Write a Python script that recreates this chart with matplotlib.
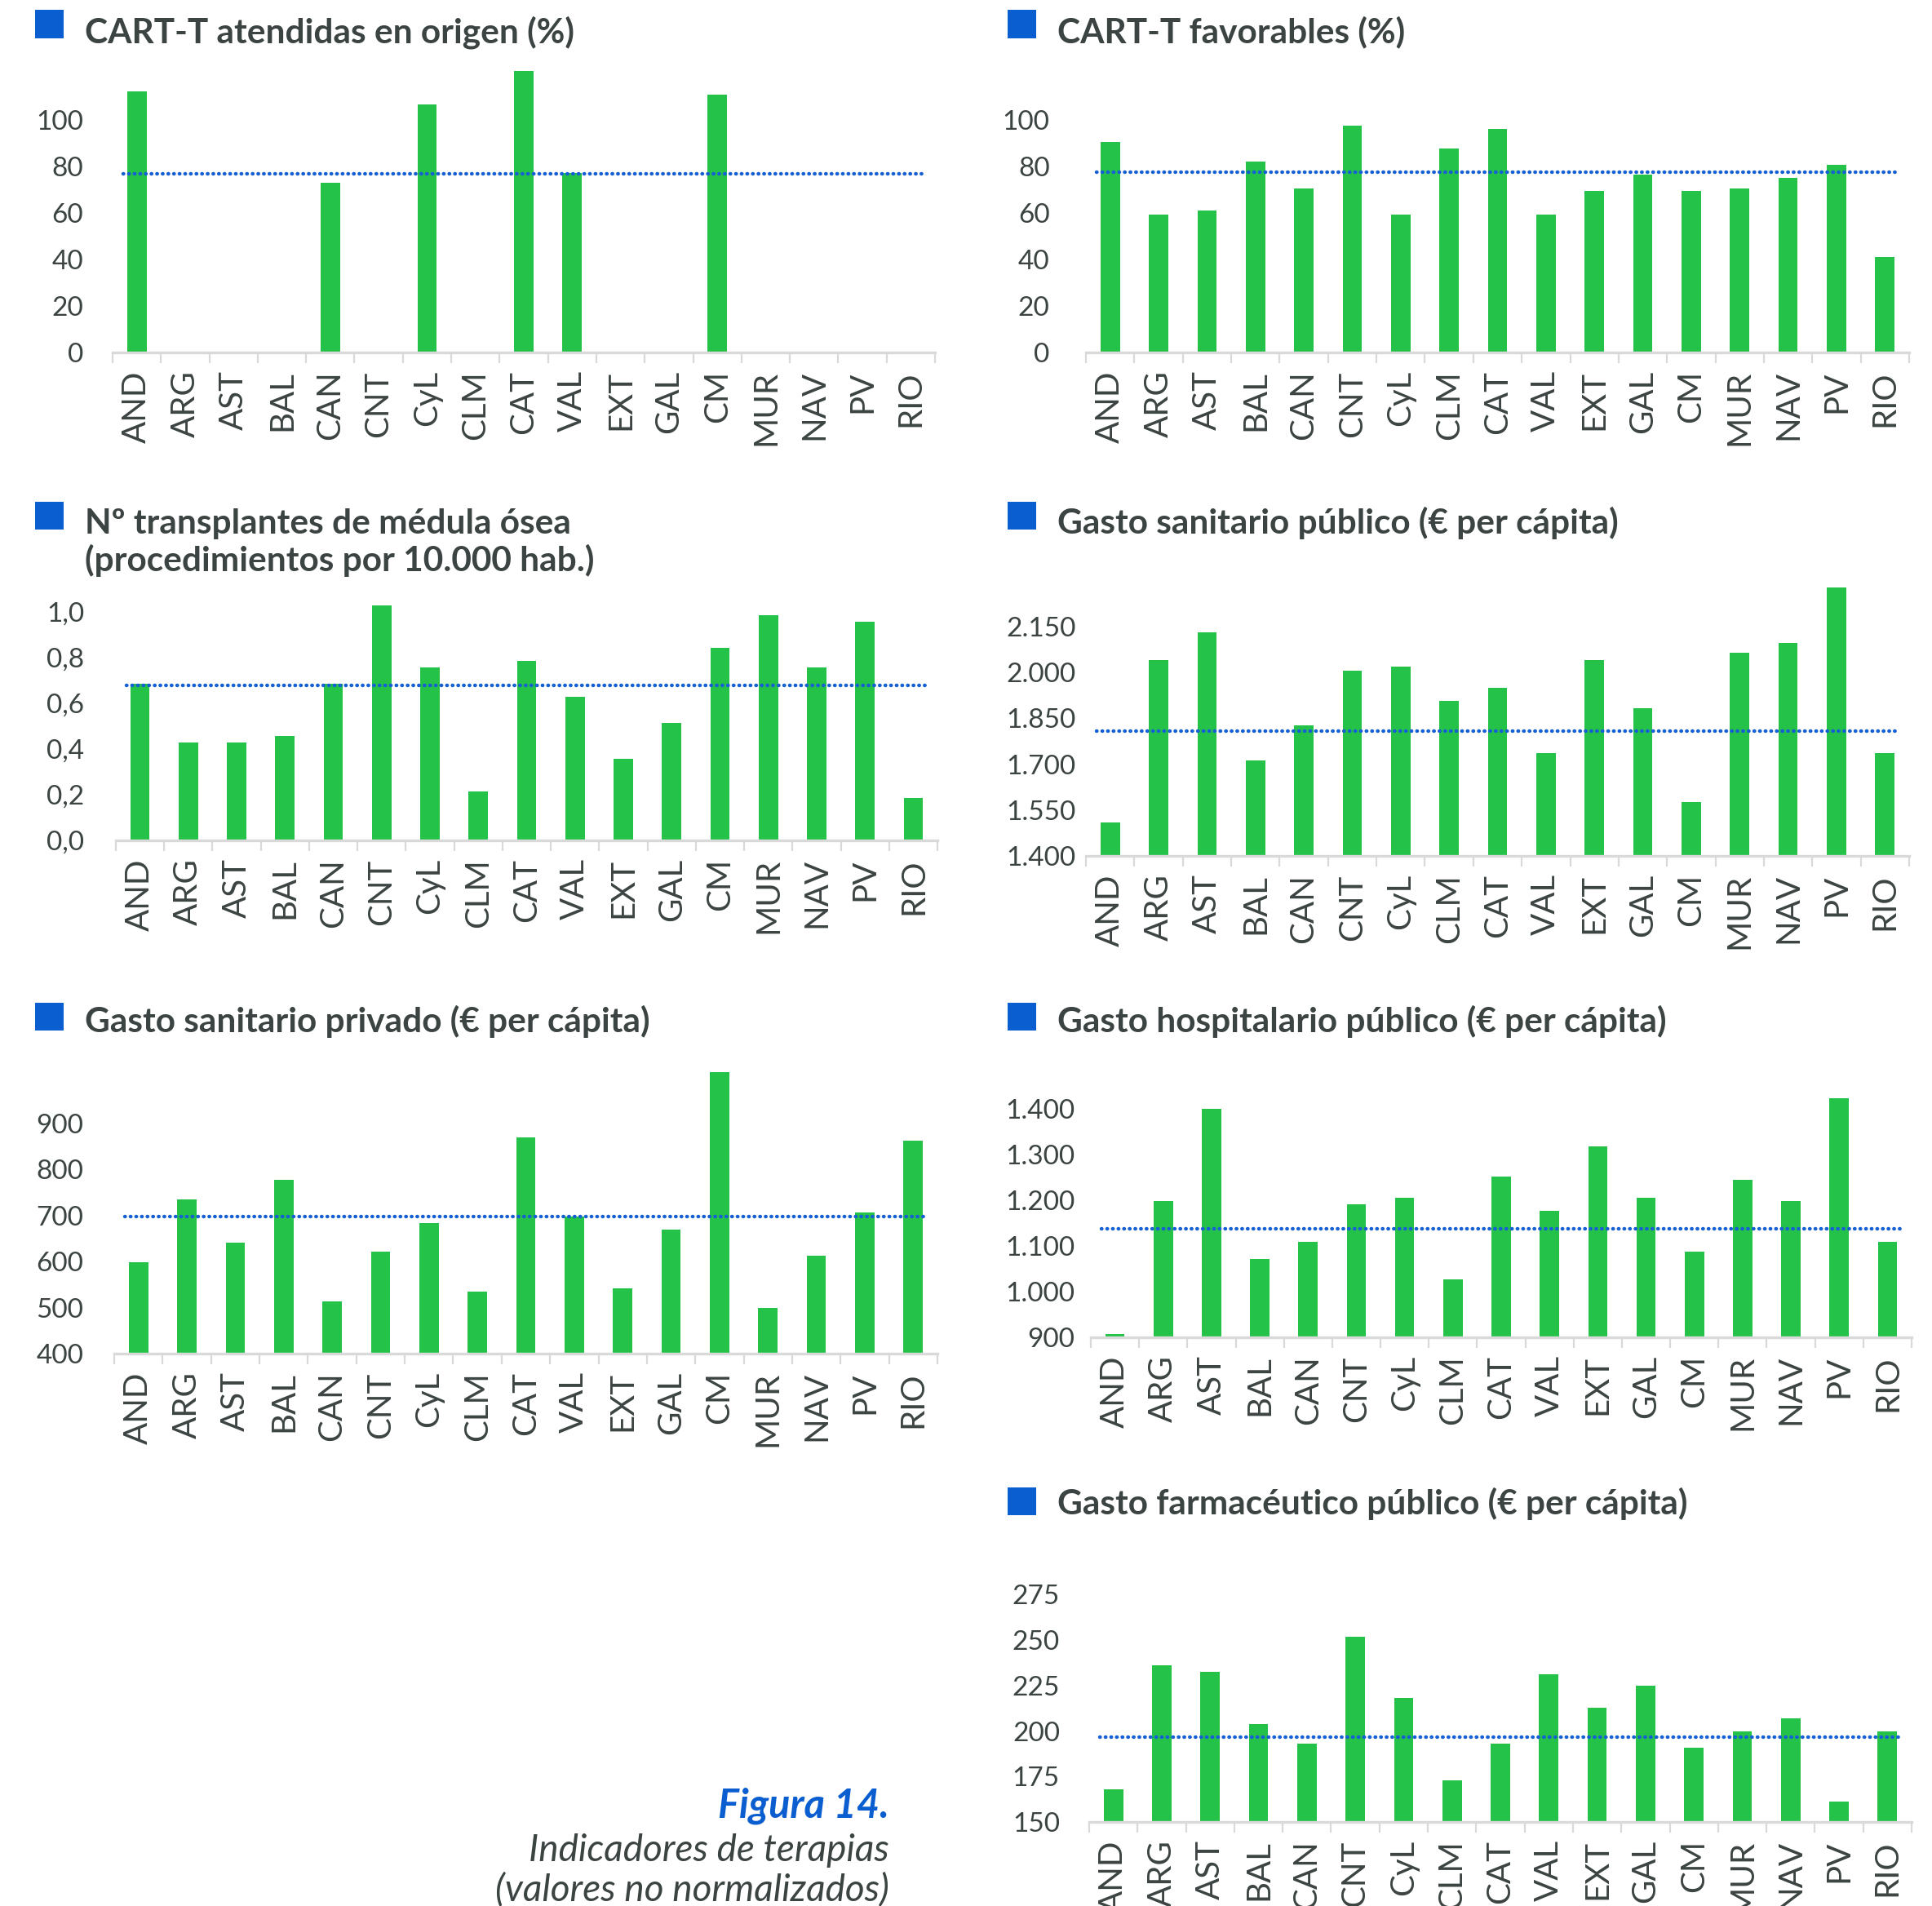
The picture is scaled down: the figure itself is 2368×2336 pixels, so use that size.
import numpy as np
import matplotlib
matplotlib.use("Agg")
import matplotlib.pyplot as plt
from matplotlib.patches import Rectangle

# ---------------- data ----------------
regions = ["AND", "ARG", "AST", "BAL", "CAN", "CNT", "CyL", "CLM", "CAT",
           "VAL", "EXT", "GAL", "CM", "MUR", "NAV", "PV", "RIO"]
nan = np.nan

cart_origen = [112.3, nan, nan, nan, 73.0, nan, 106.7, nan, 120.9,
               77.1, nan, nan, 110.9, nan, nan, nan, nan]
cart_origen_mean = 76.7

cart_favorables = [90.6, 59.4, 61.0, 82.1, 70.7, 97.6, 59.4, 87.7, 96.2,
                   59.4, 69.3, 76.4, 69.3, 70.7, 75.1, 80.6, 41.0]
cart_favorables_mean = 77.4

transplantes = [0.687, 0.428, 0.428, 0.457, 0.687, 1.03, 0.757, 0.214, 0.786,
                0.629, 0.357, 0.514, 0.844, 0.987, 0.757, 0.958, 0.184]
transplantes_mean = 0.680

gasto_publico = [1510, 2041, 2132, 1713, 1826, 2006, 2018, 1906, 1950,
                 1735, 2041, 1882, 1577, 2064, 2097, 2279, 1735]
gasto_publico_mean = 1807

gasto_privado = [599, 735, 642, 777, 514, 621, 684, 535, 870,
                 698, 542, 670, 1012, 500, 613, 706, 862]
gasto_privado_mean = 697

gasto_hosp = [908, 1198, 1400, 1072, 1109, 1191, 1206, 1027, 1251,
              1177, 1318, 1206, 1087, 1244, 1198, 1423, 1109]
gasto_hosp_mean = 1137

gasto_farma = [168, 236, 232.5, 204, 193, 252, 218, 173, 193,
               231, 213, 225, 191, 200, 207, 161, 200]
gasto_farma_mean = 196.5

ticks_origen = [0, 20, 40, 60, 80, 100]
labels_origen = ["0", "20", "40", "60", "80", "100"]
ticks_transpl = [0.0, 0.2, 0.4, 0.6, 0.8, 1.0]
labels_transpl = ["0,0", "0,2", "0,4", "0,6", "0,8", "1,0"]
ticks_publico = [1400, 1550, 1700, 1850, 2000, 2150]
labels_publico = ["1.400", "1.550", "1.700", "1.850", "2.000", "2.150"]
ticks_privado = [400, 500, 600, 700, 800, 900]
labels_privado = ["400", "500", "600", "700", "800", "900"]
ticks_hosp = [900, 1000, 1100, 1200, 1300, 1400]
labels_hosp = ["900", "1.000", "1.100", "1.200", "1.300", "1.400"]
ticks_farma = [150, 175, 200, 225, 250, 275]
labels_farma = ["150", "175", "200", "225", "250", "275"]

titles = ["CART-T atendidas en origen (%)",
          "CART-T favorables (%)",
          "Nº transplantes de médula ósea\n(procedimientos por 10.000 hab.)",
          "Gasto sanitario público (€ per cápita)",
          "Gasto sanitario privado (€ per cápita)",
          "Gasto hospitalario público (€ per cápita)",
          "Gasto farmacéutico público (€ per cápita)"]

# ---------------- style ----------------
W, H = 2368, 2336
GREEN = "#25c24a"
BLUE = "#0b5ecf"
DOT = "#1560d2"
TXT = "#3b4442"
GRID = "#d9d9d9"
FONT = ["Lato", "DejaVu Sans"]

fig = plt.figure(figsize=(W / 100, H / 100), dpi=100)
fig.patch.set_facecolor("white")


def px2fig(x, y):
    return x / W, 1 - y / H


def panel(values, mean, ticks, labels, title, left, right, baseline, ppu,
          y0, ytop, ypad, sq_x, sq_y, title_base):
    height = (ytop - y0) * ppu
    ax = fig.add_axes([left / W, (H - baseline) / H, (right - left) / W, height / H])
    x = np.arange(len(regions))
    ax.bar(x, np.array(values, dtype=float) - y0, bottom=y0, width=0.4,
           color=GREEN, zorder=2)
    ax.hlines(mean, -0.28, len(regions) - 0.72, colors=DOT, linewidth=3.2,
              linestyles=(0, (0.1, 1.45)), capstyle="round", zorder=3)
    ax.set_xlim(-0.5, len(regions) - 0.5)
    ax.set_ylim(y0, ytop)
    for s in ["top", "right", "left"]:
        ax.spines[s].set_visible(False)
    ax.spines["bottom"].set_color(GRID)
    ax.spines["bottom"].set_linewidth(2.4)
    ax.set_xticks(x)
    ax.set_xticklabels(regions, rotation=90, fontsize=29, color=TXT,
                       family=FONT, fontweight="normal", va="top", ha="center")
    ax.set_xticks(np.arange(-0.5, len(regions)), minor=True)
    ax.tick_params(axis="x", which="major", length=0, pad=16)
    ax.tick_params(axis="x", which="minor", length=9, width=1.6, color=GRID)
    ax.set_yticks(ticks)
    ax.set_yticklabels(labels, fontsize=24, color=TXT, family=FONT,
                       fontweight="normal")
    ax.tick_params(axis="y", length=0, pad=ypad)
    # title marker and text
    fx, fy = px2fig(sq_x, sq_y + 34)
    fig.patches.append(Rectangle((fx, fy), 35 / W, 34 / H, transform=fig.transFigure,
                                 facecolor=BLUE, edgecolor="none"))
    lines = title.split("\n")
    for i, ln in enumerate(lines):
        tx2, ty2 = px2fig(sq_x + 61, title_base + 46 * i)
        fig.text(tx2, ty2, ln, fontsize=30.5, fontweight="bold", color=TXT,
                 family=FONT, ha="left", va="baseline")
    return ax


panel(cart_origen, cart_origen_mean, ticks_origen, labels_origen, titles[0],
      138, 1146, 432, 2.85, 0, 125, 26, 43, 12.5, 52)
panel(cart_favorables, cart_favorables_mean, ticks_origen, labels_origen, titles[1],
      1331, 2340, 432, 2.85, 0, 125, 32, 1235, 12.5, 52)
panel(transplantes, transplantes_mean, ticks_transpl, labels_transpl, titles[2],
      142, 1149, 1030, 280, 0.0, 1.07, 28, 43, 615, 654)
panel(gasto_publico, gasto_publico_mean, ticks_publico, labels_publico, titles[3],
      1331, 2340, 1049, 0.3747, 1400, 2300, 9, 1235, 615, 654)
panel(gasto_privado, gasto_privado_mean, ticks_privado, labels_privado, titles[4],
      140, 1149, 1659, 0.564, 400, 1030, 27, 43, 1229, 1265)
panel(gasto_hosp, gasto_hosp_mean, ticks_hosp, labels_hosp, titles[5],
      1337, 2343, 1639, 0.56, 900, 1440, 14, 1235, 1229, 1265)
panel(gasto_farma, gasto_farma_mean, ticks_farma, labels_farma, titles[6],
      1335, 2343, 2233, 2.23, 150, 280, 26, 1235, 1823, 1856)

# caption
cx, cy = px2fig(1090, 2228)
fig.text(cx, cy, "Figura 14.", fontsize=35, fontweight="bold", style="italic",
         color=BLUE, family=FONT, ha="right", va="baseline")
cx, cy = px2fig(1090, 2281)
fig.text(cx, cy, "Indicadores de terapias", fontsize=33, fontweight="normal",
         style="italic", color=TXT, family=FONT, ha="right", va="baseline")
cx, cy = px2fig(1090, 2329)
fig.text(cx, cy, "(valores no normalizados)", fontsize=33, fontweight="normal",
         style="italic", color=TXT, family=FONT, ha="right", va="baseline")

fig.savefig("out.png", dpi=100, facecolor="white")
